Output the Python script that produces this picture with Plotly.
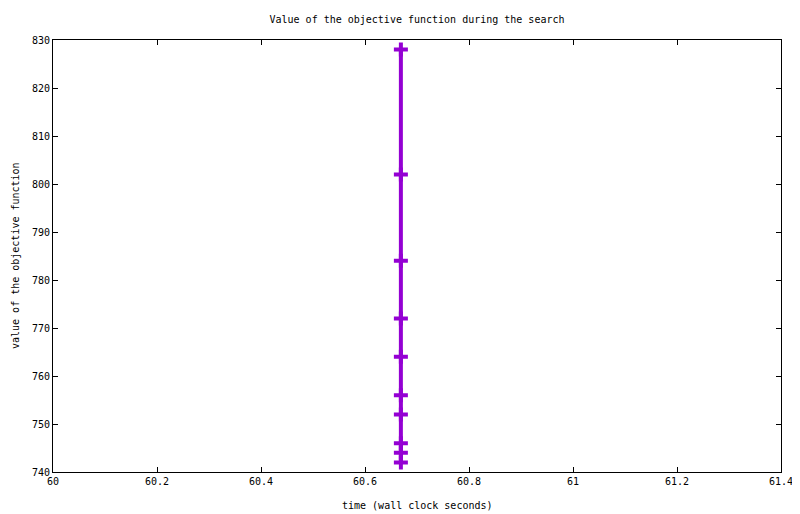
import plotly.graph_objs as go

# search trace: time (wall clock s) vs objective value
times = [60.669, 60.669, 60.669, 60.669, 60.669, 60.669, 60.669, 60.669, 60.669, 60.669]
objective = [828, 802, 784, 772, 764, 756, 752, 746, 744, 742]

x_ticks = [60, 60.2, 60.4, 60.6, 60.8, 61, 61.2, 61.4]
x_ticklabels = ['60', '60.2', '60.4', '60.6', '60.8', '61', '61.2', '61.4']
y_ticks = [740, 750, 760, 770, 780, 790, 800, 810, 820, 830]

purple = '#9400d3'
mono = 'DejaVu Sans Mono'
# page body has an 8px margin, so the figure is a bit smaller than the window
W, H = 792, 506
L, R, T, B = 45, 19, 32, 42

figure = go.Figure()
figure.add_trace(go.Scatter(x=times, y=objective, mode='lines+markers',
                            line=dict(color=purple, width=4),
                            marker=dict(symbol='cross-thin', size=10,
                                        line=dict(color=purple, width=4)),
                            showlegend=False, cliponaxis=False))

axis_style = dict(showline=True, linecolor='black', linewidth=1, mirror='allticks',
                  ticks='inside', ticklen=5, tickcolor='black', tickwidth=1,
                  showgrid=False, zeroline=False, automargin=False,
                  tickfont=dict(family=mono, size=10, color='black'))

figure.update_layout(
    width=W, height=H,
    margin=dict(l=L, r=R, t=T, b=B),
    paper_bgcolor='white', plot_bgcolor='white',
    title=dict(text='Value of the objective function during the search',
               x=(417 - 8) / W, xanchor='center', y=1 - 11 / H, yanchor='middle',
               font=dict(family=mono, size=10, color='black')),
    xaxis=dict(range=[60, 61.4], tickvals=x_ticks, ticktext=x_ticklabels, **axis_style),
    yaxis=dict(range=[740, 830], tickvals=y_ticks, **axis_style),
)

# axis titles placed like gnuplot's
pw, ph = W - L - R, H - T - B
figure.add_annotation(text='time (wall clock seconds)', xref='paper', yref='paper',
                      x=0.5, y=-(497 - (H - B)) / ph, xanchor='center', yanchor='middle',
                      showarrow=False, font=dict(family=mono, size=10, color='black'))
figure.add_annotation(text='value of the objective function', xref='paper', yref='paper',
                      x=-(L - 7) / pw, y=0.5, xanchor='center', yanchor='middle', textangle=-90,
                      showarrow=False, font=dict(family=mono, size=10, color='black'))

figure.write_html('out.html')
